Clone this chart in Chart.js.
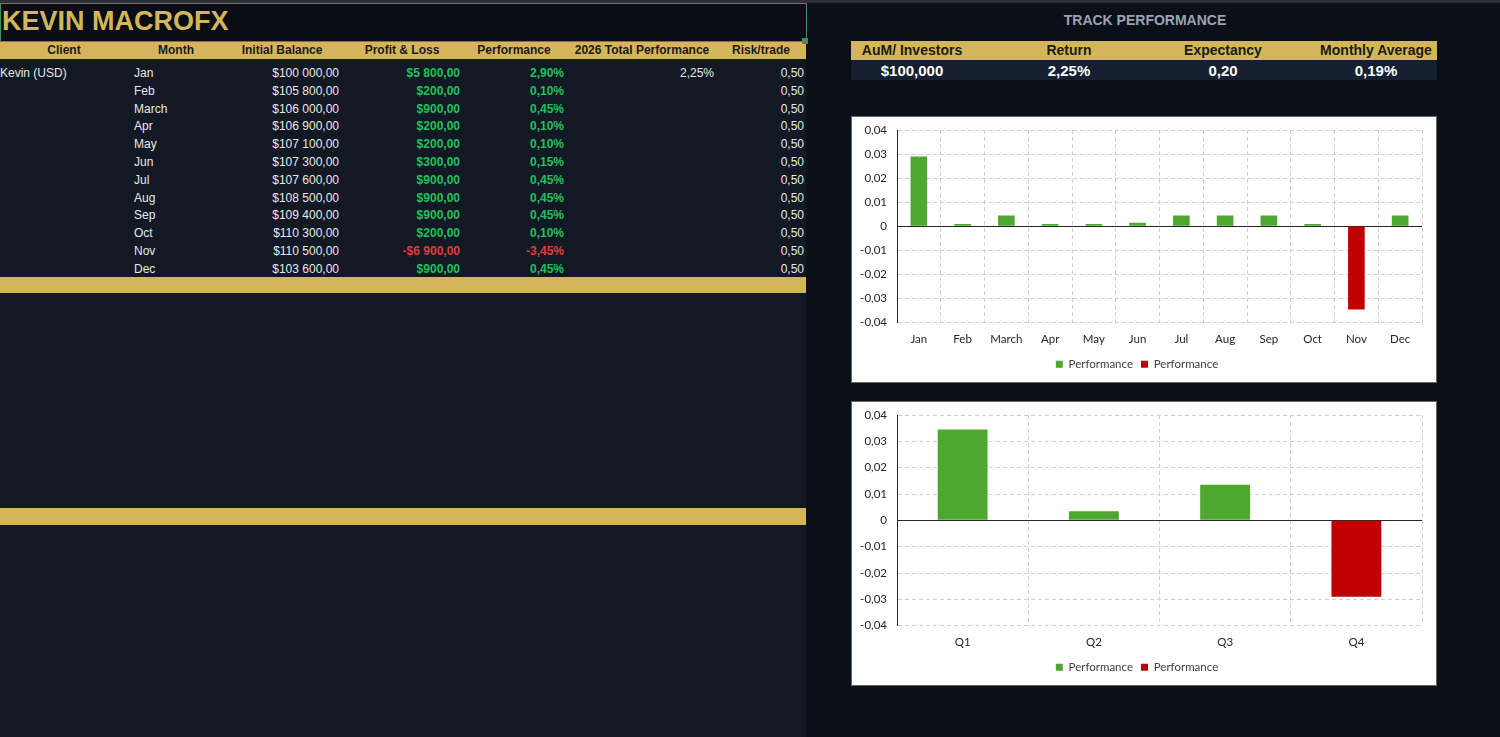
<!DOCTYPE html>
<html>
<head>
<meta charset="utf-8">
<script src="https://cdn.jsdelivr.net/npm/chart.js@4.4.1/dist/chart.umd.min.js"></script>
<style>
  html, body { margin: 0; padding: 0; }
  body { width: 1500px; height: 737px; position: relative; overflow: hidden; background: #0b0f17; font-family: "Liberation Sans", Arial, sans-serif; }
  .abs { position: absolute; white-space: nowrap; }
  #left { left: 0; top: 0; width: 806px; height: 737px; background: #121925; }
  #topstrip { left: 0; top: 0; width: 1500px; height: 3px; background: #2b3038; }
  #titleRow { left: 0; top: 3px; width: 805px; height: 37px; background: #0a0d15; border: 1px solid #3f8f5f; }
  #title { left: 2px; top: 6px; font-size: 27px; font-weight: bold; color: #d4b65a; }
  .gold { background: #d4b65a; }
  .hdr { font-size: 12px; font-weight: bold; color: #1b1b1b; transform: translateX(-50%); top: 43px; }
  .cell { font-size: 12px; color: #e8e8e8; }
  .r { transform: translateX(-100%); }
  .pos { color: #22c05a; font-weight: bold; }
  .neg { color: #e23b3b; font-weight: bold; }
  #trackTitle { left: 1145px; top: 12px; transform: translateX(-50%); font-size: 14px; font-weight: bold; color: #9aa3b2; }
  .khdr { font-size: 14px; font-weight: bold; color: #1b1b1b; top: 42px; transform: translateX(-50%); }
  .kval { font-size: 15px; font-weight: bold; color: #ffffff; top: 62px; transform: translateX(-50%); }
  .box { background: #ffffff; border: 1px solid #666; }
</style>
</head>
<body>
<div id="left" class="abs"></div>
<div id="topstrip" class="abs"></div>
<div id="titleRow" class="abs"></div>
<div id="title" class="abs">KEVIN MACROFX</div>
<div class="abs gold" style="left:0;top:42px;width:806px;height:17px;"></div>
<div class="abs" style="left:802px;top:38px;width:6px;height:6px;background:#3f8f5f;"></div>
<div class="abs gold" style="left:0;top:277px;width:806px;height:16px;"></div>
<div class="abs gold" style="left:0;top:508px;width:806px;height:17px;"></div>
<div id="table"></div>

<div id="trackTitle" class="abs">TRACK PERFORMANCE</div>
<div class="abs gold" style="left:851px;top:41px;width:586px;height:19px;"></div>
<div class="abs" style="left:851px;top:60px;width:586px;height:20px;background:#172030;"></div>
<div id="kpis"></div>

<div class="abs box" style="left:851px;top:116px;width:584px;height:265px;">
  <canvas id="monthChart"></canvas>
</div>
<div class="abs box" style="left:851px;top:401px;width:584px;height:283px;">
  <canvas id="quarterChart"></canvas>
</div>

<script>
const months = ['Jan', 'Feb', 'March', 'Apr', 'May', 'Jun', 'Jul', 'Aug', 'Sep', 'Oct', 'Nov', 'Dec'];
const balances = [100000, 105800, 106000, 106900, 107100, 107300, 107600, 108500, 109400, 110300, 110500, 103600];
const profitLoss = [5800, 200, 900, 200, 200, 300, 900, 900, 900, 200, -6900, 900];
const performancePct = [2.90, 0.10, 0.45, 0.10, 0.10, 0.15, 0.45, 0.45, 0.45, 0.10, -3.45, 0.45];
const riskPerTrade = 0.50;
const totalPerformance = '2,25%';

const quarters = ['Q1', 'Q2', 'Q3', 'Q4'];
const quarterPerf = [0.0345, 0.0035, 0.0135, -0.029];

const kpiLabels = ['AuM/ Investors', 'Return', 'Expectancy', 'Monthly Average'];
const kpiValues = ['$100,000', '2,25%', '0,20', '0,19%'];

const headers = ['Client', 'Month', 'Initial Balance', 'Profit & Loss', 'Performance', '2026 Total Performance', 'Risk/trade'];
const headerX = [64, 176, 282, 402, 514, 642, 761];

const GREEN = '#4ea72e';
const RED = '#c00000';

function money(v) {
   const sign = v < 0 ? '-' : '';
   const parts = Math.abs(v).toFixed(2).split('.');
   const int = parts[0].replace(/\B(?=(\d{3})+(?!\d))/g, ' ');
   return sign + '$' + int + ',' + parts[1];
}

function addText(parent, text, cls, style) {
   const d = document.createElement('div');
   d.className = 'abs ' + cls;
   d.textContent = text;
   Object.assign(d.style, style);
   parent.appendChild(d);
}

function buildTable() {
   const table = document.querySelector('#table');
   headers.forEach((h, i) => addText(table, h, 'hdr', { left: headerX[i] + 'px' }));
   months.forEach((m, i) => {
      const top = (66 + i * 17.8) + 'px';
      if (i === 0) {
         addText(table, 'Kevin (USD)', 'cell', { left: '0px', top: top });
         addText(table, totalPerformance, 'cell r', { left: '714px', top: top });
      }
      addText(table, m, 'cell', { left: '134px', top: top });
      addText(table, money(balances[i]), 'cell r', { left: '339px', top: top });
      const cls = profitLoss[i] < 0 ? 'neg' : 'pos';
      addText(table, money(profitLoss[i]), 'cell r ' + cls, { left: '460px', top: top });
      addText(table, performancePct[i].toFixed(2).replace('.', ',') + '%', 'cell r ' + cls, { left: '564px', top: top });
      addText(table, riskPerTrade.toFixed(2).replace('.', ','), 'cell r', { left: '804px', top: top });
   });
}

function buildKpis() {
   const kpis = document.querySelector('#kpis');
   const xs = [912, 1069, 1223, 1376];
   kpiLabels.forEach((l, i) => addText(kpis, l, 'khdr', { left: xs[i] + 'px' }));
   kpiValues.forEach((v, i) => addText(kpis, v, 'kval', { left: xs[i] + 'px' }));
}

Chart.defaults.font.family = 'Lato, "Open Sans", sans-serif';
Chart.defaults.font.size = 11.5;
Chart.defaults.color = '#404040';
Chart.defaults.animation = false;

function fmtTick(v) {
   const r = Math.round(v * 100) / 100;
   if (r === 0) return '0';
   return r.toFixed(2).replace('.', ',');
}

function createChart(id, labels, values) {
   const positive = values.map(v => (v >= 0 ? v : null));
   const negative = values.map(v => (v < 0 ? v : null));
   return new Chart(document.getElementById(id), {
      type: 'bar',
      data: {
         labels: labels,
         datasets: [
            { label: 'Performance', data: positive, backgroundColor: GREEN, grouped: false, barPercentage: 0.38, categoryPercentage: 1 },
            { label: 'Performance', data: negative, backgroundColor: RED, grouped: false, barPercentage: 0.38, categoryPercentage: 1 }
         ]
      },
      options: {
         responsive: true,
         maintainAspectRatio: false,
         layout: { padding: { left: 0, right: 14, top: 13, bottom: 2 } },
         plugins: {
            legend: {
               position: 'bottom',
               labels: { boxWidth: 7, boxHeight: 7, padding: 8, font: { size: 11.5 } }
            },
            tooltip: { enabled: false }
         },
         scales: {
            x: {
               afterFit: (scale) => { scale.height = scale.height - 6; },
               grid: { color: '#d0d0d0', drawTicks: false },
               border: { display: false, dash: [4, 3] },
               ticks: { padding: 10, color: '#262626' }
            },
            y: {
               min: -0.04,
               max: 0.04,
               afterFit: (scale) => { scale.width = 45; scale.paddingTop = 0; },
               ticks: { stepSize: 0.01, padding: 10, color: '#262626', callback: fmtTick },
               grid: {
                  drawTicks: false,
                  color: (ctx) => (ctx.tick && Math.abs(ctx.tick.value) < 1e-9 ? '#262626' : '#d0d0d0')
               },
               border: {
                  display: true,
                  color: '#262626',
                  width: 1,
                  dash: (ctx) => (ctx.tick && Math.abs(ctx.tick.value) < 1e-9 ? [] : [4, 3])
               }
            }
         }
      }
   });
}

function start() {
   buildTable();
   buildKpis();
   createChart('monthChart', months, performancePct.map(p => p / 100));
   createChart('quarterChart', quarters, quarterPerf);
}

start();
</script>
</body>
</html>
